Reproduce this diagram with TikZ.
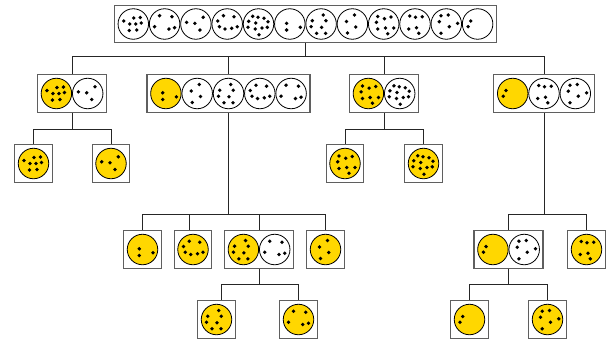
\documentclass[tikz,border=0pt]{standalone}
\usepackage{tikz}
\usetikzlibrary{positioning,fit}
\definecolor{ballyel}{RGB}{255,215,0}
\definecolor{boxgray}{RGB}{95,95,95}
\tikzset{
  ball/.style={circle,draw=black,line width=0.8pt,minimum size=30.5pt,inner sep=0pt},
  yel/.style={ball,fill=ballyel},
  wht/.style={ball,fill=white},
  grp/.style={draw=boxgray,line width=1.2pt,inner sep=3.2pt},
  link/.style={draw=black!85,line width=0.9pt}
}
% the twelve dot patterns (offsets from the centre, y downwards)
\newcommand{\patA}{-9.5/-3,0.5/-6,7/-6.5,-3.5/0,2.5/0,8/-1,-4/6.5,3.5/6}
\newcommand{\patB}{-5/-8.3,7.3/-7.3,-10/2.7,4.3/5,10/3.7}
\newcommand{\patC}{-9.3/-1.7,-1/-0.7,7.3/-6.7,4/6}
\newcommand{\patD}{-3.8/-8.3,6.8/-7.3,-9.5/-3,-7.8/2.7,-2.2/5,4.5/4.3,10/2.7}
\newcommand{\patE}{-5.8/-7.7,-0.5/-6.7,5.5/-5.7,-9.8/-2.7,-2.8/-1,9.5/-2.3,-10.5/3.3,-3.2/5,3.5/4,8.8/3.3,0.5/10.7}
\newcommand{\patF}{-3.2/-0.7,-3.2/6,10.5/3.3}
\newcommand{\patG}{2.2/-9,-8.8/-3.3,4.8/-3.3,-10/2.7,0.5/3.3,-4.5/9.3,4.5/9.3}
\newcommand{\patH}{2/-9,-6/-2.5,3.3/3,-5/9}
\newcommand{\patI}{-6/-7.5,0.7/-5.3,7.3/-7,-7.3/-1.7,-6/5,1.7/4,10/4,4/9.7}
\newcommand{\patJ}{-5.2/-8,0.5/-6.7,7.2/-7.3,-6.2/5,1.5/3.7,3.8/9.3}
\newcommand{\patK}{-5.3/-8.3,2/-9,-7/-2.3,3/2.7,11.3/-0.7,-5.3/9.3}
\newcommand{\patL}{-6.8/-3,-9.5/2.7}
\newcommand{\putdots}[2]{\foreach \dx/\dy in #2 {\fill ([shift={(\dx,\dy)}]#1.center) circle (1.9pt);}}
\begin{document}
\begin{tikzpicture}[x=1pt,y=-1pt]
\useasboundingbox (0,0) rectangle (607,341);
% all twelve
\node[wht] (t1) at (133.3,24) {};
\node[wht,right=0pt of t1] (t2) {};
\node[wht,right=0pt of t2] (t3) {};
\node[wht,right=0pt of t3] (t4) {};
\node[wht,right=0pt of t4] (t5) {};
\node[wht,right=0pt of t5] (t6) {};
\node[wht,right=0pt of t6] (t7) {};
\node[wht,right=0pt of t7] (t8) {};
\node[wht,right=0pt of t8] (t9) {};
\node[wht,right=0pt of t9] (t10) {};
\node[wht,right=0pt of t10] (t11) {};
\node[wht,right=0pt of t11] (t12) {};
\node[grp,fit=(t1)(t12)] (top) {};
\putdots{t1}{\patA} \putdots{t2}{\patB} \putdots{t3}{\patC} \putdots{t4}{\patD}
\putdots{t5}{\patE} \putdots{t6}{\patF} \putdots{t7}{\patG} \putdots{t8}{\patH}
\putdots{t9}{\patI} \putdots{t10}{\patJ} \putdots{t11}{\patK} \putdots{t12}{\patL}
% first split
\node[yel] (a1) at (56.4,93.5) {};
\node[wht,right=0pt of a1] (a2) {};
\node[grp,fit=(a1)(a2)] (A) {};
\putdots{a1}{\patA} \putdots{a2}{\patC}
\node[yel] (b1) at (165.9,93.5) {};
\node[wht,right=0pt of b1] (b2) {};
\node[wht,right=0pt of b2] (b3) {};
\node[wht,right=0pt of b3] (b4) {};
\node[wht,right=0pt of b4] (b5) {};
\node[grp,fit=(b1)(b5)] (B) {};
\putdots{b1}{\patF} \putdots{b2}{\patH} \putdots{b3}{\patG} \putdots{b4}{\patD} \putdots{b5}{\patB}
\node[yel] (c1) at (368.4,93.5) {};
\node[wht,right=0pt of c1] (c2) {};
\node[grp,fit=(c1)(c2)] (C) {};
\putdots{c1}{\patI} \putdots{c2}{\patE}
\node[yel] (d1) at (512.7,93.5) {};
\node[wht,right=0pt of d1] (d2) {};
\node[wht,right=0pt of d2] (d3) {};
\node[grp,fit=(d1)(d3)] (D) {};
\putdots{d1}{\patL} \putdots{d2}{\patJ} \putdots{d3}{\patK}
% under A and C
\node[yel] (aa1) at (33.5,163.5) {};
\node[grp,fit=(aa1)] (A1) {};
\node[yel] (aa2) at (111,163.5) {};
\node[grp,fit=(aa2)] (A2) {};
\node[yel] (cc1) at (345,163.5) {};
\node[grp,fit=(cc1)] (C1) {};
\node[yel] (cc2) at (423.5,163.5) {};
\node[grp,fit=(cc2)] (C2) {};
\putdots{aa1}{\patA} \putdots{aa2}{\patC} \putdots{cc1}{\patI} \putdots{cc2}{\patE}
% under B and D
\node[yel] (bb1) at (142.5,249.5) {};
\node[grp,fit=(bb1)] (B1) {};
\node[yel] (bb2) at (193,249.5) {};
\node[grp,fit=(bb2)] (B2) {};
\node[yel] (bb3) at (243.4,249.5) {};
\node[wht,right=0pt of bb3] (bb3w) {};
\node[grp,fit=(bb3)(bb3w)] (B3) {};
\node[yel] (bb4) at (325.5,249.5) {};
\node[grp,fit=(bb4)] (B4) {};
\putdots{bb1}{\patF} \putdots{bb2}{\patD} \putdots{bb3}{\patG} \putdots{bb3w}{\patB} \putdots{bb4}{\patH}
\node[yel] (dd1) at (492.9,249.5) {};
\node[wht,right=0pt of dd1] (dd1w) {};
\node[grp,fit=(dd1)(dd1w)] (D1) {};
\node[yel] (dd2) at (586.5,249.5) {};
\node[grp,fit=(dd2)] (D2) {};
\putdots{dd1}{\patL} \putdots{dd1w}{\patK} \putdots{dd2}{\patJ}
% last level
\node[yel] (bbb1) at (216.5,319.5) {};
\node[grp,fit=(bbb1)] (B31) {};
\node[yel] (bbb2) at (298.5,319.5) {};
\node[grp,fit=(bbb2)] (B32) {};
\node[yel] (ddd1) at (469.5,319.5) {};
\node[grp,fit=(ddd1)] (D11) {};
\node[yel] (ddd2) at (547.5,319.5) {};
\node[grp,fit=(ddd2)] (D12) {};
\putdots{bbb1}{\patG} \putdots{bbb2}{\patB} \putdots{ddd1}{\patL} \putdots{ddd2}{\patK}
% connectors
\path (top.south) ++(0,13) coordinate (j0);
\draw[link] (top.south) -- (j0);
\foreach \n in {A,B,C,D} {\draw[link] (j0) -| (\n.north);}
\path (A.south) ++(0,16) coordinate (ja);
\draw[link] (A.south) -- (ja) -| (A1.north);
\draw[link] (ja) -| (A2.north);
\path (C.south) ++(0,16) coordinate (jc);
\draw[link] (C.south) -- (jc) -| (C1.north);
\draw[link] (jc) -| (C2.north);
\path (B.south) ++(0,101) coordinate (jb);
\draw[link] (B.south) -- (jb) -| (B1.north);
\draw[link] (jb) -| ([xshift=-4pt]B2.north);
\draw[link] (jb) -| (B3.north);
\draw[link] (jb) -| (B4.north);
\path (D.south) ++(0,101) coordinate (jd);
\draw[link] (D.south) -- (jd) -| (D1.north);
\draw[link] (jd) -| (D2.north);
\path (B3.south) ++(0,15) coordinate (jb3);
\draw[link] (B3.south) -- (jb3) -| ([xshift=4.5pt]B31.north);
\draw[link] (jb3) -| (B32.north);
\path (D1.south) ++(0,15) coordinate (jd1);
\draw[link] (D1.south) -- (jd1) -| (D11.north);
\draw[link] (jd1) -| (D12.north);
\end{tikzpicture}
\end{document}
